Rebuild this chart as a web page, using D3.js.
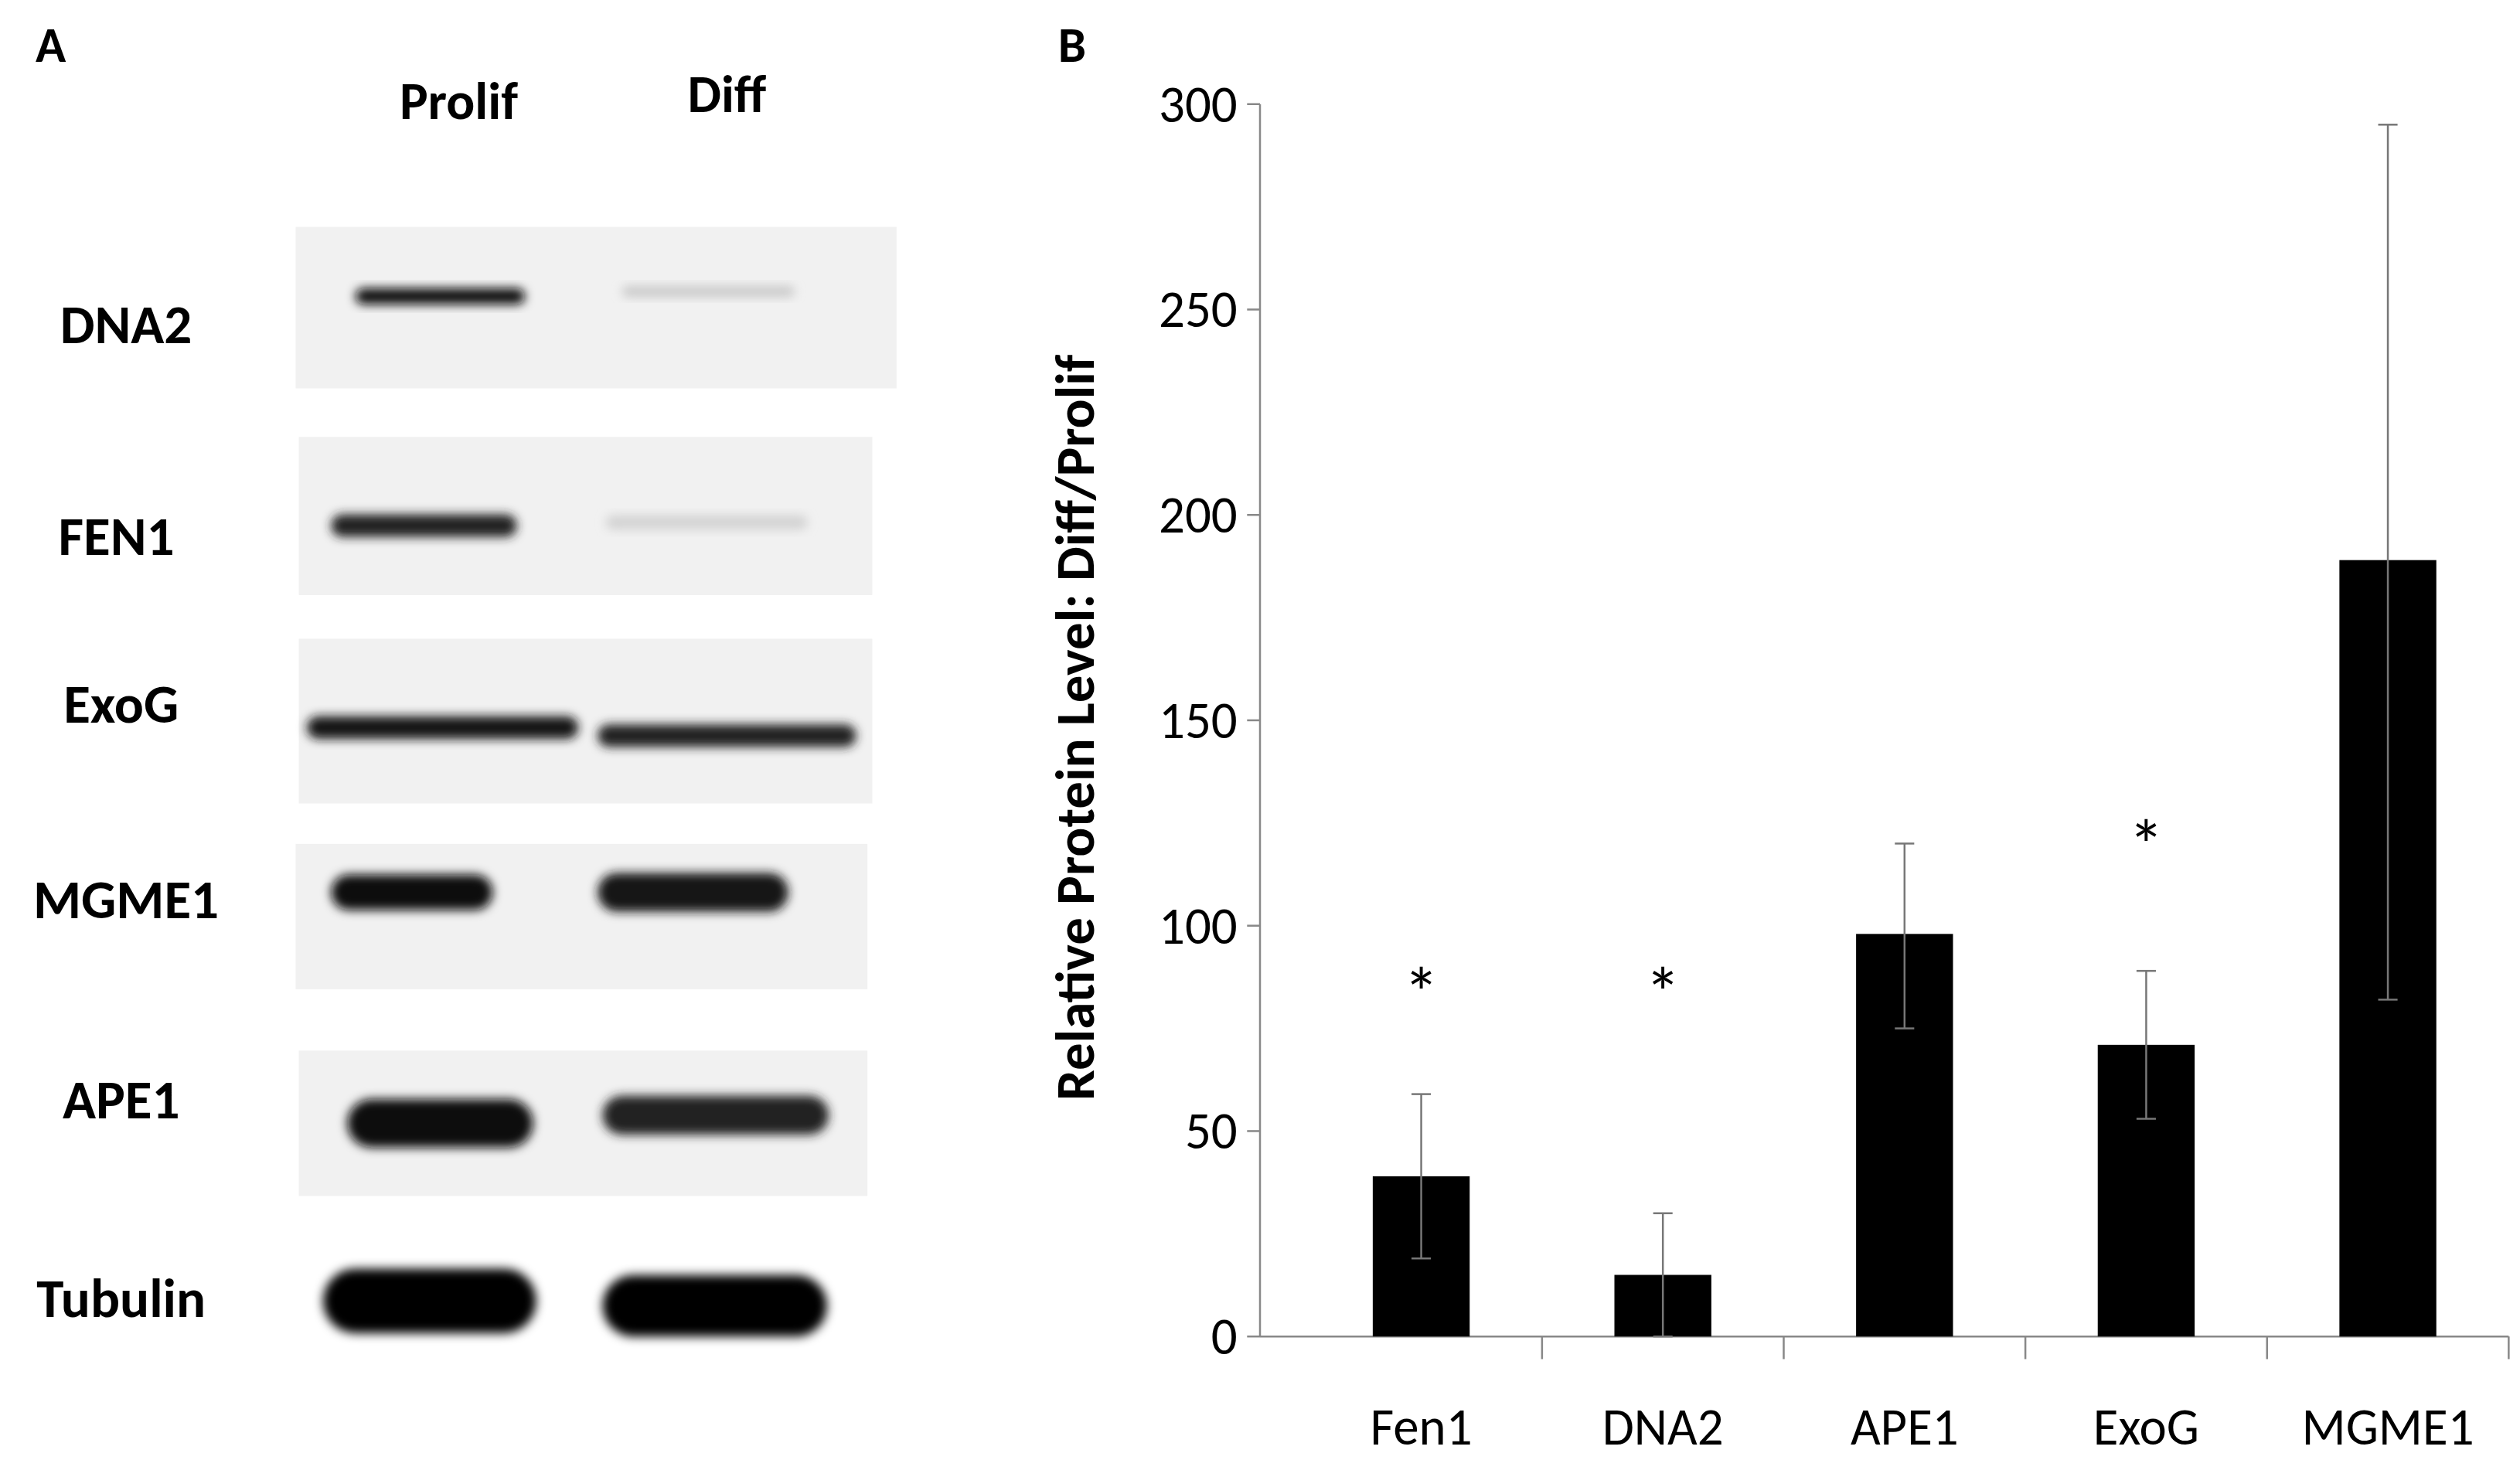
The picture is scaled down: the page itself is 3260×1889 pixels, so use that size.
<!DOCTYPE html>
<html><head><meta charset="utf-8">
<script src="https://cdn.jsdelivr.net/npm/d3@7"></script>
<style>body{margin:0;background:#fff}</style>
</head><body>
<script>
// panel B data
var categories = ["Fen1", "DNA2", "APE1", "ExoG", "MGME1"];
var values = [39, 15, 98, 71, 189];
var errLow = [19, 0, 75, 53, 82];
var errHigh = [59, 30, 120, 89, 295];
var starAt = [87, 87, null, 123, null];
var yTicks = [0, 50, 100, 150, 200, 250, 300];

// panel A data (band darkness 0..1 for Prolif / Diff)
var blotRows = ["DNA2", "FEN1", "ExoG", "MGME1", "APE1", "Tubulin"];
var prolifBand = [0.95, 0.85, 0.9, 0.95, 0.95, 1];
var diffBand = [0.12, 0.08, 0.85, 0.9, 0.85, 1];

var W = 1560, H = 903;
var svg = d3.select("body").append("svg")
  .attr("width", 3260).attr("height", 1889)
  .attr("viewBox", "0 0 " + W + " " + H);

var defs = svg.append("defs");
defs.append("filter").attr("id", "blur").attr("x", "-20%").attr("y", "-50%")
  .attr("width", "140%").attr("height", "200%")
  .append("feGaussianBlur").attr("stdDeviation", 3);

var bold = "Calibri, Carlito, 'Open Sans', 'DejaVu Sans', sans-serif";

// ---------- Panel A ----------
svg.append("text").attr("x", 22).attr("y", 38).text("A")
  .attr("font-family", bold).attr("font-weight", "bold").attr("font-size", 31);
svg.append("text").attr("x", 284).attr("y", 73).attr("text-anchor", "middle").text("Prolif")
  .attr("font-family", bold).attr("font-weight", "bold").attr("font-size", 33);
svg.append("text").attr("x", 450).attr("y", 69).attr("text-anchor", "middle").text("Diff")
  .attr("font-family", bold).attr("font-weight", "bold").attr("font-size", 33);

var boxes = [[183, 555, 140, 240], [185, 540, 270, 368], [185, 540, 395, 497],
             [183, 537, 522, 612], [185, 537, 650, 740], null];
var labelX = [78, 72, 75, 78, 75, 75];
var labelY = [212, 343, 447, 568, 692, 815];
var pBand = [[220, 325, 183, 10], [205, 320, 325, 14], [190, 358, 450, 14],
             [205, 305, 552, 22], [215, 330, 695, 30], [200, 332, 805, 40]];
var dBand = [[385, 492, 180, 7], [375, 500, 323, 9], [370, 530, 455, 14],
             [370, 488, 552, 24], [373, 513, 690, 24], [373, 512, 808, 38]];

blotRows.forEach(function(r, i) {
  if (boxes[i]) {
    var b = boxes[i];
    svg.append("rect").attr("x", b[0]).attr("y", b[2]).attr("width", b[1] - b[0])
      .attr("height", b[3] - b[2]).attr("fill", "#f1f1f1");
  }
  svg.append("text").attr("x", labelX[i]).attr("y", labelY[i]).attr("text-anchor", "middle")
    .text(r).attr("font-family", bold).attr("font-weight", "bold").attr("font-size", 34);
  [[pBand[i], prolifBand[i]], [dBand[i], diffBand[i]]].forEach(function(p) {
    var bd = p[0], c = Math.round(255 * (1 - p[1]) * 0.9);
    svg.append("rect").attr("x", bd[0]).attr("y", bd[2] - bd[3] / 2)
      .attr("width", bd[1] - bd[0]).attr("height", bd[3])
      .attr("rx", bd[3] / 2).attr("fill", d3.rgb(c, c, c))
      .attr("filter", "url(#blur)");
  });
});

// ---------- Panel B ----------
svg.append("text").attr("x", 655).attr("y", 38).text("B")
  .attr("font-family", bold).attr("font-weight", "bold").attr("font-size", 31);

var y = d3.scaleLinear().domain([0, 300]).range([827, 64]);
var x = d3.scaleBand().domain(categories).range([805, 1553]);
var axisLeft = 780, bw = 60;

var g = svg.append("g");
g.append("line").attr("x1", axisLeft).attr("x2", axisLeft).attr("y1", y(300)).attr("y2", y(0))
  .attr("stroke", "#888").attr("stroke-width", 1.2);
g.append("line").attr("x1", axisLeft).attr("x2", 1553).attr("y1", y(0)).attr("y2", y(0))
  .attr("stroke", "#888").attr("stroke-width", 1.2);
yTicks.forEach(function(t) {
  g.append("line").attr("x1", axisLeft - 8).attr("x2", axisLeft).attr("y1", y(t)).attr("y2", y(t))
    .attr("stroke", "#888").attr("stroke-width", 1.2);
  g.append("text").attr("x", axisLeft - 14).attr("y", y(t) + 11).attr("text-anchor", "end")
    .text(t).attr("font-family", bold).attr("font-size", 32);
});
categories.forEach(function(c) {
  var tx = x(c) + x.bandwidth();
  g.append("line").attr("x1", tx).attr("x2", tx).attr("y1", y(0)).attr("y2", y(0) + 14)
    .attr("stroke", "#888").attr("stroke-width", 1.2);
  g.append("text").attr("x", x(c) + x.bandwidth() / 2).attr("y", 894).attr("text-anchor", "middle")
    .text(c).attr("font-family", bold).attr("font-size", 32);
});

g.selectAll("rect.bar").data(values).enter().append("rect").attr("class", "bar")
  .attr("x", function(d, i) { return x(categories[i]) + x.bandwidth() / 2 - bw / 2; })
  .attr("y", function(d) { return y(d); })
  .attr("width", bw).attr("height", function(d) { return y(0) - y(d); })
  .attr("fill", "#000");

values.forEach(function(v, i) {
  var cx = x(categories[i]) + x.bandwidth() / 2;
  g.append("line").attr("x1", cx).attr("x2", cx).attr("y1", y(errHigh[i])).attr("y2", y(errLow[i]))
    .attr("stroke", "#777").attr("stroke-width", 1.2);
  [errHigh[i], errLow[i]].forEach(function(e) {
    g.append("line").attr("x1", cx - 6).attr("x2", cx + 6).attr("y1", y(e)).attr("y2", y(e))
      .attr("stroke", "#777").attr("stroke-width", 1.2);
  });
  if (starAt[i] != null)
    g.append("text").attr("x", cx).attr("y", y(starAt[i]) + 24).attr("text-anchor", "middle")
      .text("*").attr("font-family", bold).attr("font-size", 44);
});

svg.append("text").attr("transform", "translate(677,450) rotate(-90)").attr("text-anchor", "middle")
  .text("Relative Protein Level: Diff/Prolif")
  .attr("font-family", bold).attr("font-weight", "bold").attr("font-size", 34);
</script>
</body></html>
